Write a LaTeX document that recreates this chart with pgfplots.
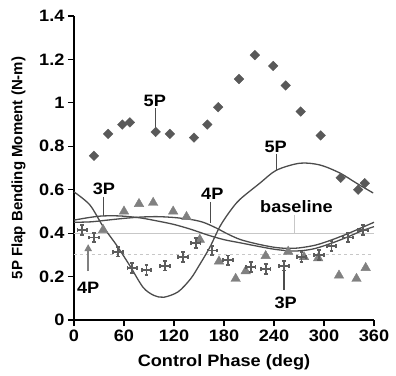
\documentclass[border=0pt]{standalone}
\usepackage{pgfplots}
\pgfplotsset{compat=1.18}
\usepackage{fontspec}
\setmainfont{Liberation Sans}
\newfontfamily\stretchfont{Liberation Sans}[FakeStretch=1.1]
\usetikzlibrary{arrows.meta}
\definecolor{curvegray}{gray}{0.30}
\definecolor{diagray}{gray}{0.35}
\definecolor{trigray}{gray}{0.50}
\definecolor{crossgray}{gray}{0.36}
\definecolor{basegray}{gray}{0.78}
\newcommand\lbl{\stretchfont\fontsize{16.5}{18}\selectfont\bfseries}
\newcommand\tlbl{\stretchfont\fontsize{16.5}{18}\selectfont\bfseries}
\newcommand\ylbl{\fontsize{15}{18}\selectfont\bfseries}
\pgfdeclareplotmark{capplus}{%
  \pgfpathmoveto{\pgfqpoint{-\pgfplotmarksize}{0pt}}%
  \pgfpathlineto{\pgfqpoint{\pgfplotmarksize}{0pt}}%
  \pgfpathmoveto{\pgfqpoint{0pt}{-\pgfplotmarksize}}%
  \pgfpathlineto{\pgfqpoint{0pt}{\pgfplotmarksize}}%
  \pgfpathmoveto{\pgfqpoint{-\pgfplotmarksize}{-0.4\pgfplotmarksize}}%
  \pgfpathlineto{\pgfqpoint{-\pgfplotmarksize}{0.4\pgfplotmarksize}}%
  \pgfpathmoveto{\pgfqpoint{\pgfplotmarksize}{-0.4\pgfplotmarksize}}%
  \pgfpathlineto{\pgfqpoint{\pgfplotmarksize}{0.4\pgfplotmarksize}}%
  \pgfpathmoveto{\pgfqpoint{-0.4\pgfplotmarksize}{\pgfplotmarksize}}%
  \pgfpathlineto{\pgfqpoint{0.4\pgfplotmarksize}{\pgfplotmarksize}}%
  \pgfpathmoveto{\pgfqpoint{-0.4\pgfplotmarksize}{-\pgfplotmarksize}}%
  \pgfpathlineto{\pgfqpoint{0.4\pgfplotmarksize}{-\pgfplotmarksize}}%
  \pgfusepathqstroke}
\begin{document}
\begin{tikzpicture}
\begin{axis}[
  scale only axis, width=300pt, height=304pt,
  xmin=0, xmax=360, ymin=0, ymax=1.4,
  axis x line*=bottom, axis y line*=left,
  axis line style={line width=1.2pt, black},
  xtick={0,60,120,180,240,300,360},
  xticklabels={0,60,120,180,240,300,360},
  ytick={0,0.2,0.4,0.6,0.8,1,1.2,1.4},
  yticklabels={0,0.2,0.4,0.6,0.8,1,1.2,1.4},
  tick align=outside, major tick length=6pt,
  tick style={line width=1.2pt, black},
  tick label style={font=\tlbl},
  /pgf/number format/assume math mode=true,
  xlabel={Control Phase (deg)},
  ylabel={5P Flap Bending Moment (N-m)},
  xlabel style={at={(axis description cs:0.5,-0.138)}, anchor=center, font=\lbl},
  ylabel style={at={(axis description cs:-0.185,0.5)}, anchor=center, font=\ylbl},
  clip=false,
]
\coordinate (o) at (axis cs:0,0);
% baseline and dashed reference
\addplot[basegray, line width=1.2pt] coordinates {(0,0.4) (360,0.4)};
\addplot[basegray, line width=1.2pt, dash pattern=on 3pt off 3pt] coordinates {(0,0.3) (360,0.3)};
% 5P curve
\addplot[curvegray, line width=1.3pt, smooth] coordinates {
(0,0.59) (19,0.53) (35,0.43) (51,0.345) (67,0.25) (83,0.15) (96,0.113) (108,0.105)
(125,0.13) (140,0.19) (150,0.25) (163,0.335) (175,0.43) (187,0.50) (199,0.555)
(223,0.63) (243,0.69) (271,0.722) (295,0.714) (319,0.677) (339,0.63) (359,0.585)};
% 3P curve
\addplot[curvegray, line width=1.3pt, smooth] coordinates {
(0,0.46) (15,0.47) (30,0.478) (45,0.48) (60,0.478) (80,0.47) (100,0.456) (120,0.44)
(140,0.418) (160,0.392) (180,0.37) (200,0.355) (220,0.34) (240,0.326) (260,0.318)
(275,0.32) (290,0.33) (310,0.355) (330,0.385) (345,0.41) (360,0.43)};
% 4P curve
\addplot[curvegray, line width=1.3pt, smooth] coordinates {
(0,0.45) (20,0.452) (40,0.46) (60,0.468) (80,0.474) (100,0.476) (120,0.472) (140,0.463)
(155,0.45) (170,0.425) (185,0.395) (200,0.37) (220,0.35) (240,0.335) (255,0.33)
(270,0.332) (290,0.345) (310,0.37) (330,0.40) (345,0.425) (360,0.45)};
% 5P data (diamonds)
\addplot[only marks, mark=square*, mark size=3.4pt, mark options={rotate=45, fill=diagray, draw=diagray}] coordinates {
(24,0.756) (41,0.857) (58,0.90) (67,0.91) (98,0.866) (115,0.857) (144,0.84) (160,0.90)
(173,0.98) (198,1.11) (217,1.22) (239,1.17) (254,1.08) (272,0.96) (296,0.85)
(320,0.655) (341,0.60) (349,0.63)};
% triangles
\addplot[only marks, mark=triangle*, mark size=5.5pt, mark options={fill=trigray, draw=trigray}] coordinates {
(35,0.415) (60,0.50) (78,0.535) (95,0.54) (119,0.50) (135,0.475) (151,0.37) (174,0.27)
(194,0.19) (206,0.225) (230,0.295) (257,0.315) (276,0.29) (293,0.285) (318,0.205)
(339,0.19) (350,0.24)};
% crosses
\addplot[only marks, mark=capplus, mark size=4.8pt, mark options={draw=crossgray, line width=1.8pt}] coordinates {
(10,0.415) (24,0.38) (53,0.315) (70,0.24) (87,0.23) (109,0.25) (131,0.29) (146,0.355)
(166,0.32) (185,0.275) (212,0.245) (230,0.235) (252,0.25) (273,0.29) (294,0.30)
(309,0.34) (329,0.38) (347,0.415)};
% annotations
\node[font=\lbl] at (axis cs:97,1.01) {5P};
\draw[curvegray, line width=1.1pt] (axis cs:98,0.975) -- (axis cs:98,0.88);
\node[font=\lbl] at (axis cs:36,0.604) {3P};
\draw[curvegray, line width=1.1pt] (axis cs:35,0.567) -- (axis cs:35,0.478);
\node[font=\lbl] at (axis cs:166,0.58) {4P};
\draw[curvegray, line width=1.1pt] (axis cs:164,0.544) -- (axis cs:164,0.445);
\node[font=\lbl] at (axis cs:242,0.797) {5P};
\draw[curvegray, line width=1.1pt] (axis cs:243.5,0.765) -- (axis cs:243.5,0.69);
\node[font=\lbl] at (axis cs:267,0.52) {baseline};
\draw[basegray, line width=1.1pt] (axis cs:265,0.484) -- (axis cs:265,0.4);
\node[font=\lbl] at (axis cs:254,0.078) {3P};
\draw[curvegray, line width=1.1pt] (axis cs:252,0.138) -- (axis cs:252,0.267);
\node[font=\lbl] at (axis cs:17,0.147) {4P};
\draw[trigray, line width=2pt, -{Triangle[length=7pt,width=7pt]}] (axis cs:17,0.225) -- (axis cs:17,0.35);
\end{axis}
\pgfresetboundingbox
\path (o) ++(-74pt,-55pt) rectangle ++(396pt,375pt);
\end{tikzpicture}
\end{document}
